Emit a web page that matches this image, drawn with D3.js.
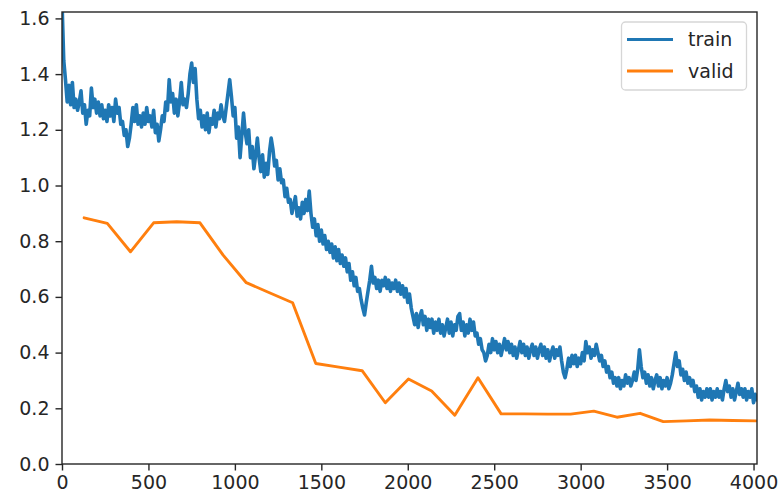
<!DOCTYPE html>
<html>
<head>
<meta charset="utf-8">
<script src="https://cdn.jsdelivr.net/npm/d3@7"></script>
<style>
  html, body { margin: 0; padding: 0; background: #fff; }
  svg { display: block; }
  text { font-family: "DejaVu Sans", sans-serif; }
</style>
</head>
<body>
<svg id="chart" width="779" height="498"></svg>
<script>
// ---- data ----
const trainStep = 10; // iterations between recorded training losses
const trainLoss = [
  1.66,1.45,1.38,1.30,1.36,1.29,1.37,1.28,1.31,1.27,1.30,1.34,1.26,1.29,1.22,1.27,1.25,1.35,1.28,1.31,
  1.26,1.30,1.25,1.29,1.24,1.27,1.23,1.29,1.25,1.28,1.23,1.31,1.26,1.28,1.22,1.23,1.18,1.20,1.14,1.17,
  1.22,1.28,1.23,1.29,1.22,1.25,1.21,1.26,1.22,1.28,1.23,1.25,1.21,1.27,1.19,1.22,1.16,1.20,1.25,1.23,
  1.30,1.27,1.38,1.30,1.33,1.26,1.31,1.25,1.30,1.37,1.29,1.31,1.28,1.33,1.40,1.44,1.37,1.42,1.31,1.24,
  1.27,1.21,1.25,1.20,1.26,1.19,1.24,1.22,1.27,1.21,1.26,1.24,1.29,1.25,1.23,1.28,1.33,1.38,1.32,1.25,
  1.28,1.17,1.21,1.10,1.18,1.26,1.19,1.15,1.20,1.10,1.14,1.06,1.11,1.17,1.10,1.05,1.11,1.03,1.08,1.04,
  1.12,1.17,1.13,1.07,1.09,1.02,1.06,1.01,1.02,0.96,0.99,0.94,0.95,0.90,0.93,0.96,0.89,0.92,0.88,0.94,
  0.90,0.95,0.91,0.98,0.90,0.85,0.88,0.82,0.86,0.80,0.84,0.79,0.82,0.77,0.80,0.76,0.79,0.74,0.78,0.73,
  0.77,0.72,0.75,0.71,0.74,0.69,0.72,0.66,0.69,0.64,0.67,0.62,0.63,0.59,0.56,0.535,0.58,0.62,0.66,0.71,
  0.65,0.67,0.63,0.66,0.62,0.66,0.64,0.67,0.63,0.66,0.62,0.65,0.63,0.66,0.62,0.65,0.61,0.64,0.60,0.63,
  0.58,0.61,0.56,0.53,0.50,0.54,0.49,0.53,0.55,0.50,0.53,0.48,0.52,0.49,0.52,0.47,0.51,0.48,0.52,0.47,
  0.50,0.46,0.49,0.52,0.47,0.51,0.46,0.50,0.48,0.53,0.54,0.48,0.51,0.46,0.50,0.47,0.52,0.48,0.51,0.46,
  0.47,0.43,0.45,0.41,0.40,0.37,0.39,0.43,0.40,0.45,0.41,0.44,0.40,0.43,0.39,0.42,0.45,0.41,0.44,0.40,
  0.43,0.39,0.42,0.38,0.41,0.44,0.40,0.43,0.39,0.42,0.38,0.41,0.43,0.39,0.42,0.38,0.41,0.43,0.39,0.42,
  0.38,0.41,0.37,0.40,0.42,0.38,0.41,0.39,0.42,0.37,0.33,0.31,0.34,0.38,0.35,0.39,0.36,0.39,0.35,0.38,
  0.36,0.40,0.37,0.44,0.40,0.42,0.38,0.41,0.39,0.43,0.40,0.37,0.39,0.35,0.37,0.33,0.35,0.31,0.33,0.29,
  0.31,0.28,0.31,0.27,0.30,0.28,0.32,0.29,0.31,0.28,0.30,0.33,0.30,0.34,0.41,0.35,0.31,0.33,0.29,0.32,
  0.28,0.31,0.27,0.30,0.32,0.28,0.31,0.27,0.30,0.28,0.31,0.27,0.29,0.32,0.36,0.40,0.35,0.37,0.32,0.34,
  0.30,0.33,0.29,0.31,0.28,0.30,0.26,0.28,0.24,0.27,0.23,0.26,0.24,0.27,0.24,0.27,0.23,0.26,0.24,0.27,
  0.24,0.26,0.23,0.27,0.30,0.26,0.28,0.24,0.27,0.23,0.26,0.29,0.25,0.27,0.24,0.27,0.23,0.26,0.24,0.27,
  0.22,0.25,0.23
];
const validIter = [128,262,396,530,664,798,932,1066,1200,1334,1468,1602,1736,1870,2004,2138,2272,2406,2540,2674,2808,2942,3076,3210,3344,3478,3612,3746,3880,4014];
const validLoss = [0.884,0.864,0.762,0.866,0.870,0.866,0.750,0.651,0.615,0.579,0.361,0.348,0.335,0.220,0.305,0.262,0.175,0.310,0.180,0.180,0.179,0.179,0.190,0.168,0.182,0.152,0.155,0.158,0.156,0.155];
const xTicks = [0,500,1000,1500,2000,2500,3000,3500,4000];
const yTicks = [0.0,0.2,0.4,0.6,0.8,1.0,1.2,1.4,1.6];
const seriesNames = ["train","valid"];
const seriesColors = ["#1f77b4","#ff7f0e"];

// ---- layout ----
const svg = d3.select("#chart");
const L = 62, R = 757, T = 12, B = 464;
const x = d3.scaleLinear().domain([0, 4020]).range([L, R]);
const y = d3.scaleLinear().domain([0, 1.623]).range([B, T]);
const fontSize = 19;
const ink = "#262626";

svg.append("defs").append("clipPath").attr("id","plotclip")
  .append("rect").attr("x",L).attr("y",T).attr("width",R-L).attr("height",B-T);

const trainPts = trainLoss.map((v,i) => [i*trainStep, v]);
const validPts = validIter.map((it,i) => [it, validLoss[i]]);
const line = d3.line().x(d => x(d[0])).y(d => y(d[1]));

const g = svg.append("g").attr("clip-path","url(#plotclip)");
g.append("path").datum(trainPts).attr("d", line)
  .attr("fill","none").attr("stroke",seriesColors[0]).attr("stroke-width",3.6)
  .attr("stroke-linejoin","round").attr("stroke-linecap","round");
g.append("path").datum(validPts).attr("d", line)
  .attr("fill","none").attr("stroke",seriesColors[1]).attr("stroke-width",2.9)
  .attr("stroke-linejoin","round").attr("stroke-linecap","round");

// axes
const xAxis = d3.axisBottom(x).tickValues(xTicks).tickFormat(d3.format("d")).tickSizeInner(6.5).tickSizeOuter(0).tickPadding(5);
const yAxis = d3.axisLeft(y).tickValues(yTicks).tickFormat(d3.format(".1f")).tickSizeInner(6.5).tickSizeOuter(0).tickPadding(6);

const gx = svg.append("g").attr("transform",`translate(0,${B})`).call(xAxis);
const gy = svg.append("g").attr("transform",`translate(${L},0)`).call(yAxis);
[gx, gy].forEach(ax => {
  ax.select(".domain").remove();
  ax.selectAll(".tick line").attr("stroke", ink).attr("stroke-width", 1.4);
  ax.selectAll(".tick text").attr("fill", ink).style("font-size", fontSize + "px").style("font-family","DejaVu Sans");
});

// spines
svg.append("rect").attr("x",L).attr("y",T).attr("width",R-L).attr("height",B-T)
  .attr("fill","none").attr("stroke",ink).attr("stroke-width",1.4);

// legend
const lg = svg.append("g");
lg.append("rect").attr("x",621.5).attr("y",22).attr("width",125).attr("height",68)
  .attr("rx",4).attr("fill","rgba(255,255,255,0.8)").attr("stroke","#d6d6d6").attr("stroke-width",1.3);
seriesNames.forEach((name,i) => {
  const yy = 39.5 + i*31.5;
  lg.append("line").attr("x1",627).attr("x2",673).attr("y1",yy).attr("y2",yy)
    .attr("stroke",seriesColors[i]).attr("stroke-width",2.9);
  lg.append("text").attr("x",688).attr("y",yy).attr("dy","0.35em")
    .attr("fill",ink).style("font-size",fontSize+"px").text(name);
});
</script>
</body>
</html>
